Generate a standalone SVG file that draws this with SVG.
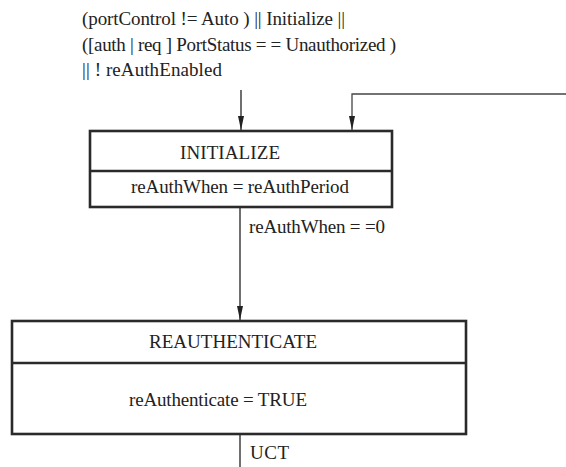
<svg xmlns="http://www.w3.org/2000/svg" width="566" height="467" viewBox="0 0 566 467">
<style>
text{font-family:"Liberation Serif","Times New Roman",serif;fill:#222;font-size:19px}
.box{fill:#fff;stroke:#2a2a2a;stroke-width:2.6}
.div{stroke:#2a2a2a;stroke-width:2.4}
.con{fill:none;stroke:#222;stroke-width:1.3}
</style>
<defs>
<marker id="av" viewBox="0 0 14 6" refX="14" refY="3" markerWidth="14" markerHeight="6" markerUnits="userSpaceOnUse" orient="auto">
<path d="M0,0 L14,3 L0,6 Z" fill="#222"/>
</marker>
</defs>
<g id="condition">
<text x="82" y="25" textLength="263" lengthAdjust="spacing">(portControl != Auto ) || Initialize ||</text>
<text x="82" y="51" textLength="314" lengthAdjust="spacing">([auth | req ] PortStatus = = Unauthorized )</text>
<text x="82" y="76" textLength="140" lengthAdjust="spacing">|| ! reAuthEnabled</text>
</g>
<g id="connectors">
<path class="con" d="M241,90 V130" marker-end="url(#av)"/>
<path class="con" d="M566,94 H352 V130" marker-end="url(#av)" style="stroke:#444"/>
<path class="con" d="M240,207 V320" marker-end="url(#av)"/>
<path class="con" d="M240,434 V467"/>
<text x="249" y="233" textLength="136" lengthAdjust="spacing">reAuthWhen = =0</text>
<text x="250" y="459" textLength="39" lengthAdjust="spacing">UCT</text>
</g>
<g id="initialize">
<rect class="box" x="90" y="131" width="302" height="76"/>
<line class="div" x1="90" y1="171" x2="392" y2="171"/>
<text x="180" y="159" textLength="100" lengthAdjust="spacing">INITIALIZE</text>
<text x="131" y="193" textLength="218" lengthAdjust="spacing">reAuthWhen = reAuthPeriod</text>
</g>
<g id="reauthenticate">
<rect class="box" x="12" y="321" width="454" height="113"/>
<line class="div" x1="12" y1="363" x2="466" y2="363"/>
<text x="149" y="348" textLength="168" lengthAdjust="spacing">REAUTHENTICATE</text>
<text x="129" y="406" textLength="178" lengthAdjust="spacing">reAuthenticate = TRUE</text>
</g>
</svg>
